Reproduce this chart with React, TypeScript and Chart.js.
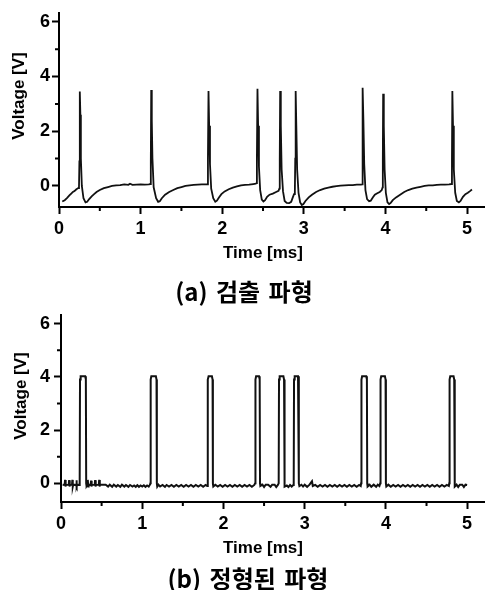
import React, { useEffect, useRef } from "react";
import { Chart, registerables } from "chart.js";

Chart.register(...registerables);

// ---- tick labels ----
const xTickValues = [0, 1, 2, 3, 4, 5];
const xMinorTicks = [0.5, 1.5, 2.5, 3.5, 4.5];
const yTickValues = [0, 2, 4, 6];
const yMinorTicks = [1, 3, 5];

// ---- texts ----
const yTitle = "Voltage [V]";
const xTitle = "Time [ms]";
const captionA = "(a) 검출 파형";
const captionB = "(b) 정형된 파형";

// ---- (a) detected waveform: [time ms, voltage V] ----
const detectedWave: [number, number][] = [
  [0.04, -0.57], [0.07, -0.52], [0.10, -0.44], [0.13, -0.34], [0.15, -0.28], [0.17, -0.22], [0.19, -0.19], [0.21, -0.13], [0.235, -0.08], [0.245, -0.04],
  [0.25, 0.9], [0.255, 3.45], [0.262, 2.6], [0.268, 1.0], [0.28, 0.0], [0.30, -0.45], [0.325, -0.6], [0.345, -0.58], [0.37, -0.48], [0.40, -0.38], [0.43, -0.3], [0.46, -0.22], [0.50, -0.15], [0.55, -0.08], [0.60, -0.04], [0.65, 0.0], [0.70, 0.02], [0.75, 0.03], [0.80, 0.06], [0.85, 0.04], [0.87, 0.08], [0.90, 0.04], [0.95, 0.05], [1.00, 0.06], [1.05, 0.05], [1.10, 0.06], [1.12, 0.07],
  [1.125, 0.9], [1.13, 3.51], [1.137, 2.4], [1.145, 1.0], [1.16, -0.05], [1.19, -0.45], [1.215, -0.58], [1.235, -0.56], [1.26, -0.45], [1.30, -0.32], [1.35, -0.22], [1.40, -0.15], [1.45, -0.08], [1.50, -0.04], [1.55, 0.0], [1.60, 0.02], [1.65, 0.04], [1.70, 0.05], [1.75, 0.06], [1.80, 0.06], [1.82, 0.06],
  [1.825, 1.0], [1.832, 3.47], [1.84, 2.2], [1.85, 0.8], [1.865, -0.1], [1.89, -0.45], [1.915, -0.58], [1.935, -0.54], [1.96, -0.42], [1.99, -0.3], [2.03, -0.2], [2.08, -0.12], [2.13, -0.06], [2.18, -0.02], [2.23, 0.02], [2.28, 0.04], [2.33, 0.05], [2.38, 0.07], [2.41, 0.08], [2.42, 0.1],
  [2.425, 1.0], [2.432, 3.55], [2.44, 2.2], [2.45, 0.7], [2.465, -0.15], [2.485, -0.5], [2.505, -0.57], [2.525, -0.52], [2.55, -0.4], [2.58, -0.32], [2.62, -0.28], [2.66, -0.22], [2.69, -0.18], [2.70, -0.1],
  [2.705, 1.0], [2.71, 3.47], [2.718, 2.2], [2.728, 0.6], [2.745, -0.2], [2.765, -0.55], [2.79, -0.62], [2.82, -0.63], [2.845, -0.58], [2.865, -0.42], [2.88, -0.3], [2.89, -0.2],
  [2.895, 1.0], [2.90, 3.47], [2.908, 2.2], [2.918, 0.6], [2.935, -0.25], [2.955, -0.6], [2.975, -0.7], [2.995, -0.66], [3.02, -0.55], [3.06, -0.42], [3.10, -0.32], [3.15, -0.22], [3.20, -0.15], [3.25, -0.1], [3.30, -0.06], [3.35, -0.03], [3.40, -0.01], [3.45, 0.01], [3.50, 0.02], [3.55, 0.03], [3.60, 0.03], [3.65, 0.05], [3.70, 0.05], [3.715, 0.06],
  [3.718, 1.0], [3.723, 3.59], [3.73, 2.4], [3.74, 0.8], [3.755, -0.15], [3.775, -0.48], [3.80, -0.56], [3.82, -0.54], [3.845, -0.42], [3.87, -0.32], [3.90, -0.27], [3.93, -0.22], [3.955, -0.15], [3.965, -0.05],
  [3.968, 1.0], [3.972, 3.37], [3.98, 2.2], [3.99, 0.6], [4.005, -0.25], [4.025, -0.6], [4.045, -0.66], [4.065, -0.62], [4.09, -0.52], [4.13, -0.42], [4.18, -0.32], [4.23, -0.22], [4.28, -0.15], [4.33, -0.1], [4.38, -0.06], [4.43, -0.03], [4.48, 0.0], [4.53, 0.02], [4.58, 0.02], [4.63, 0.04], [4.68, 0.05], [4.73, 0.05], [4.78, 0.06], [4.81, 0.07],
  [4.815, 1.0], [4.82, 3.47], [4.828, 2.2], [4.838, 0.6], [4.855, -0.25], [4.875, -0.55], [4.90, -0.6], [4.92, -0.55], [4.95, -0.4], [4.98, -0.3], [5.01, -0.25], [5.04, -0.18], [5.06, -0.13],
];

// ---- (b) shaped waveform: [time ms, voltage V] ----
const shapedWave: [number, number][] = [
  [0.02, -0.05], [0.045, -0.06], [0.05, 0.13], [0.055, -0.12], [0.06, -0.05], [0.095, -0.06], [0.10, 0.12], [0.105, -0.12], [0.11, -0.05], [0.135, -0.06], [0.14, 0.13], [0.145, -0.12], [0.15, -0.05], [0.185, -0.06], [0.19, 0.12], [0.195, -0.12], [0.20, -0.05], [0.225, -0.06],
  [0.23, 0.0], [0.234, 3.9], [0.242, 4.02], [0.298, 4.02], [0.306, 3.9], [0.31, 0.0], [0.315, -0.1],
  [0.325, -0.05], [0.33, 0.13], [0.335, -0.12], [0.34, -0.05], [0.365, -0.06], [0.37, 0.1], [0.375, -0.12], [0.38, -0.05], [0.415, -0.06], [0.42, 0.12], [0.425, -0.12], [0.43, -0.05], [0.465, -0.06], [0.47, 0.13], [0.475, -0.12], [0.48, -0.05], [0.53, -0.05],
  [0.55, -0.05], [0.58, -0.12], [0.60, -0.05], [0.63, -0.13], [0.65, -0.05], [0.68, -0.12], [0.70, -0.06], [0.73, -0.13], [0.75, -0.05], [0.78, -0.12], [0.80, -0.06], [0.83, -0.13], [0.85, -0.06], [0.88, -0.12], [0.90, -0.08], [0.92, -0.13], [0.94, -0.07], [0.96, -0.13], [0.98, -0.08], [1.00, -0.12], [1.02, -0.07], [1.04, -0.13], [1.06, -0.08], [1.08, -0.12], [1.095, -0.05],
  [1.10, 0.0], [1.104, 3.9], [1.112, 4.02], [1.168, 4.02], [1.176, 3.9], [1.18, 0.0], [1.185, -0.12],
  [1.20, -0.05], [1.22, -0.12], [1.25, -0.06], [1.28, -0.13], [1.30, -0.06], [1.33, -0.12], [1.36, -0.06], [1.39, -0.13], [1.42, -0.06], [1.45, -0.12], [1.48, -0.06], [1.51, -0.13], [1.54, -0.06], [1.57, -0.12], [1.60, -0.06], [1.63, -0.13], [1.66, -0.06], [1.69, -0.12], [1.72, -0.06], [1.75, -0.13], [1.78, -0.06], [1.80, -0.1],
  [1.805, 0.0], [1.809, 3.9], [1.817, 4.02], [1.858, 4.02], [1.866, 3.9], [1.87, 0.0], [1.875, -0.12],
  [1.90, -0.05], [1.93, -0.12], [1.96, -0.06], [1.99, -0.13], [2.02, -0.06], [2.05, -0.12], [2.08, -0.06], [2.11, -0.13], [2.14, -0.06], [2.17, -0.12], [2.20, -0.06], [2.23, -0.13], [2.26, -0.06], [2.29, -0.12], [2.32, -0.06], [2.35, -0.13], [2.38, -0.06],
  [2.39, 0.0], [2.394, 3.9], [2.402, 4.02], [2.438, 4.02], [2.446, 3.9], [2.45, 0.0], [2.455, -0.1],
  [2.48, -0.05], [2.50, -0.14], [2.52, -0.05], [2.55, -0.05], [2.58, -0.13], [2.60, -0.05], [2.63, -0.05], [2.65, -0.14], [2.67, -0.06],
  [2.68, 0.0], [2.684, 3.9], [2.692, 4.02], [2.738, 4.02], [2.746, 3.9], [2.75, 0.0], [2.755, -0.12],
  [2.78, -0.08], [2.80, -0.14], [2.82, -0.06], [2.84, -0.12], [2.86, -0.06],
  [2.865, 0.0], [2.869, 3.9], [2.877, 4.02], [2.918, 4.02], [2.926, 3.9], [2.93, 0.0], [2.935, -0.1],
  [2.96, -0.05], [2.98, -0.12], [3.00, -0.05], [3.03, -0.13], [3.06, -0.05], [3.09, 0.08], [3.10, -0.1], [3.13, -0.06], [3.16, -0.13], [3.19, -0.06], [3.22, -0.12], [3.25, -0.06], [3.28, -0.13], [3.31, -0.06], [3.34, -0.12], [3.37, -0.06], [3.40, -0.13], [3.43, -0.06], [3.46, -0.12], [3.49, -0.06], [3.52, -0.13], [3.55, -0.06], [3.58, -0.12], [3.61, -0.06], [3.64, -0.13], [3.67, -0.06], [3.69, -0.1],
  [3.695, 0.0], [3.699, 3.9], [3.707, 4.02], [3.758, 4.02], [3.766, 3.9], [3.77, 0.0], [3.775, -0.12],
  [3.80, -0.05], [3.82, -0.13], [3.85, -0.05], [3.88, -0.13], [3.90, -0.05], [3.92, -0.1],
  [3.93, 0.0], [3.934, 3.9], [3.942, 4.02], [3.988, 4.02], [3.996, 3.9], [4.00, 0.0], [4.005, -0.12],
  [4.03, -0.05], [4.06, -0.13], [4.09, -0.06], [4.12, -0.12], [4.15, -0.06], [4.18, -0.13], [4.21, -0.06], [4.24, -0.12], [4.27, -0.06], [4.30, -0.13], [4.33, -0.06], [4.36, -0.12], [4.39, -0.06], [4.42, -0.13], [4.45, -0.06], [4.48, -0.12], [4.51, -0.06], [4.54, -0.13], [4.57, -0.06], [4.60, -0.12], [4.63, -0.06], [4.66, -0.13], [4.69, -0.06], [4.72, -0.12], [4.75, -0.06], [4.775, -0.1],
  [4.78, 0.0], [4.784, 3.9], [4.792, 4.02], [4.833, 4.02], [4.841, 3.9], [4.845, 0.0], [4.85, -0.12],
  [4.87, -0.05], [4.89, -0.14], [4.91, -0.05], [4.94, -0.05], [4.96, -0.14], [4.98, -0.05], [5.00, -0.06],
];

const FONT = "'Liberation Sans', Arial, Helvetica, sans-serif";
const KFONT = "'Noto Sans CJK KR', 'Noto Sans', sans-serif";

const minorTicksPlugin = {
  id: "minorTicks",
  afterDraw(chart: any) {
    const { ctx, chartArea, scales } = chart;
    ctx.save();
    ctx.strokeStyle = "#000";
    ctx.lineWidth = 2;
    ctx.beginPath();
    xMinorTicks.forEach((v) => {
      const px = scales.x.getPixelForValue(v);
      ctx.moveTo(px, chartArea.bottom);
      ctx.lineTo(px, chartArea.bottom + 4);
    });
    yMinorTicks.forEach((v) => {
      const py = scales.y.getPixelForValue(v);
      ctx.moveTo(chartArea.left, py);
      ctx.lineTo(chartArea.left - 4, py);
    });
    ctx.stroke();
    ctx.restore();
  },
};

type Cfg = {
  yWidth: number;
  xHeight: number;
  padTop: number;
  xMax: number;
  yMin: number;
  yMax: number;
  lineWidth: number;
  yPad: number;
};

function buildChart(canvas: HTMLCanvasElement, wave: [number, number][], c: Cfg) {
  return new Chart(canvas, {
    type: "line",
    data: {
      datasets: [
        {
          data: wave.map(([x, y]) => ({ x, y })),
          borderColor: "#111",
          borderWidth: c.lineWidth,
          pointRadius: 0,
          tension: 0,
          fill: false,
        },
      ],
    },
    plugins: [minorTicksPlugin],
    options: {
      animation: false,
      responsive: false,
      devicePixelRatio: 1,
      events: [],
      layout: { padding: { top: c.padTop, left: 0, right: 0, bottom: 0 } },
      plugins: { legend: { display: false }, tooltip: { enabled: false }, title: { display: false } },
      scales: {
        x: {
          type: "linear",
          min: 0,
          max: c.xMax,
          afterBuildTicks: (s: any) => {
            s.ticks = xTickValues.map((value) => ({ value }));
          },
          afterFit: (s: any) => {
            s.height = c.xHeight;
          },
          ticks: {
            autoSkip: false,
            maxRotation: 0,
            padding: 4,
            color: "#000",
            font: { family: FONT, size: 18, weight: "bold" },
            callback: (v: any) => String(v),
          },
          grid: { drawOnChartArea: false, drawTicks: true, tickLength: 7, tickWidth: 2, tickColor: "#000" },
          border: { display: true, color: "#000", width: 2 },
        },
        y: {
          type: "linear",
          min: c.yMin,
          max: c.yMax,
          afterBuildTicks: (s: any) => {
            s.ticks = yTickValues.map((value) => ({ value }));
          },
          afterFit: (s: any) => {
            s.width = c.yWidth;
          },
          ticks: {
            autoSkip: false,
            padding: c.yPad,
            color: "#000",
            font: { family: FONT, size: 18, weight: "bold" },
            callback: (v: any) => String(v),
          },
          grid: { drawOnChartArea: false, drawTicks: true, tickLength: 7, tickWidth: 2, tickColor: "#000" },
          border: { display: true, color: "#000", width: 2 },
        },
      },
    },
  } as any);
}

const abs = (cx: number, cy: number, extra: React.CSSProperties = {}, rot = false): React.CSSProperties => ({
  position: "absolute",
  left: cx,
  top: cy,
  transform: rot ? "translate(-50%, -50%) rotate(-90deg)" : "translate(-50%, -50%)",
  whiteSpace: "nowrap",
  lineHeight: 1,
  color: "#000",
  ...extra,
});

export default function App() {
  const ref1 = useRef<HTMLCanvasElement>(null);
  const ref2 = useRef<HTMLCanvasElement>(null);

  useEffect(() => {
    const c1 = buildChart(ref1.current!, detectedWave, {
      yWidth: 59, xHeight: 63, padTop: 10, xMax: 5.22, yMin: -0.77, yMax: 6.33, lineWidth: 1.8, yPad: 2,
    });
    const c2 = buildChart(ref2.current!, shapedWave, {
      yWidth: 61, xHeight: 53, padTop: 10, xMax: 5.22, yMin: -0.7, yMax: 6.33, lineWidth: 2, yPad: 4,
    });
    return () => {
      c1.destroy();
      c2.destroy();
    };
  }, []);

  const axisTitle: React.CSSProperties = { fontFamily: FONT, fontWeight: "bold", fontSize: 17 };
  const caption: React.CSSProperties = { fontFamily: KFONT, fontWeight: "bold", fontSize: 24, wordSpacing: 3 };

  return (
    <div style={{ position: "absolute", left: 0, top: 0, width: 485, height: 590, background: "#fff", overflow: "hidden" }}>
      <canvas ref={ref1} width={485} height={270} style={{ position: "absolute", left: 0, top: 0 }} />
      <canvas ref={ref2} width={485} height={255} style={{ position: "absolute", left: 0, top: 300 }} />
      <div style={abs(17.5, 96, axisTitle, true)}>{yTitle}</div>
      <div style={abs(263, 252, axisTitle)}>{xTitle}</div>
      <div style={abs(244, 291, caption)}>{captionA}</div>
      <div style={abs(20, 396, axisTitle, true)}>{yTitle}</div>
      <div style={abs(263, 547, axisTitle)}>{xTitle}</div>
      <div style={abs(248, 578, caption)}>{captionB}</div>
    </div>
  );
}
